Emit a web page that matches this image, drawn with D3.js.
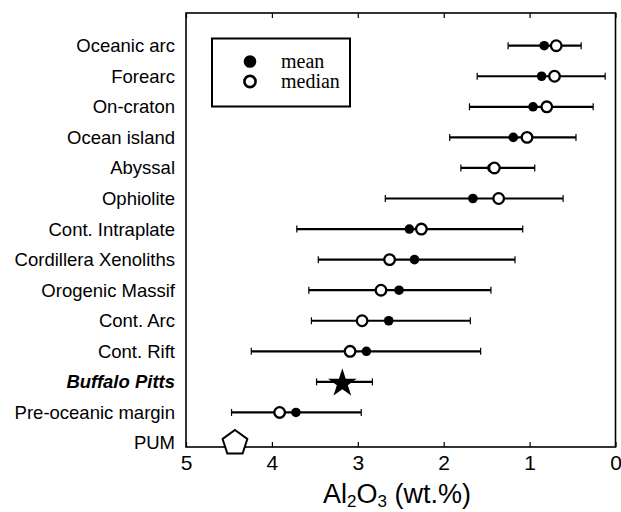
<!DOCTYPE html>
<html>
<head>
<meta charset="utf-8">
<script src="https://cdn.jsdelivr.net/npm/d3@7"></script>
<style>
  body { margin: 0; background: #fff; }
  svg { display: block; }
</style>
</head>
<body>
<svg id="chart" width="621" height="512"></svg>
<script>
// Al2O3 of peridotite suites (wt.%)
const categories = ["Oceanic arc", "Forearc", "On-craton", "Ocean island", "Abyssal", "Ophiolite",
  "Cont. Intraplate", "Cordillera Xenoliths", "Orogenic Massif", "Cont. Arc", "Cont. Rift",
  "Buffalo Pitts", "Pre-oceanic margin", "PUM"];
const meanVals   = [0.83, 0.86, 0.96, 1.19, 1.44, 1.66, 2.40, 2.34, 2.52, 2.64, 2.90, null, 3.72, null];
const medianVals = [0.69, 0.71, 0.80, 1.03, 1.41, 1.36, 2.26, 2.63, 2.73, 2.95, 3.09, null, 3.91, null];
const lowVals    = [1.25, 1.61, 1.70, 1.93, 1.80, 2.68, 3.71, 3.46, 3.57, 3.54, 4.24, 3.48, 4.47, null];
const highVals   = [0.40, 0.12, 0.26, 0.46, 0.94, 0.61, 1.08, 1.17, 1.45, 1.69, 1.57, 2.83, 2.96, null];
const buffaloVal = 3.18;
const pumVal = 4.43;
const xTicks = [5, 4, 3, 2, 1, 0];

const svg = d3.select("#chart");
const plotL = 186, plotR = 615.5, plotT = 13, plotB = 447;

const x = d3.scaleLinear().domain([5, 0]).range([plotL, plotR]);
const y = d3.scalePoint().domain(categories).range([45.7, 443]);

const rows = categories.map((c, i) => ({
  name: c, mean: meanVals[i], median: medianVals[i], lo: lowVals[i], hi: highVals[i]
}));

// frame
svg.append("rect")
  .attr("x", plotL).attr("y", plotT)
  .attr("width", plotR - plotL).attr("height", plotB - plotT)
  .attr("fill", "none").attr("stroke", "#000").attr("stroke-width", 1.6);

// bottom axis
const xAxis = svg.append("g")
  .attr("transform", `translate(0,${plotB})`)
  .call(d3.axisBottom(x).tickValues(xTicks).tickSize(-5).tickPadding(8).tickFormat(d3.format("d")));
xAxis.select(".domain").remove();
xAxis.selectAll("line").attr("stroke-width", 1.2);
xAxis.selectAll("text")
  .attr("font-family", "Liberation Sans, Arial, sans-serif")
  .attr("font-size", 21).attr("fill", "#000");

// top ticks
const topAxis = svg.append("g")
  .attr("transform", `translate(0,${plotT})`)
  .call(d3.axisTop(x).tickValues(xTicks).tickSize(-5).tickFormat(""));
topAxis.select(".domain").remove();
topAxis.selectAll("line").attr("stroke-width", 1.2);

// x title
const title = svg.append("text")
  .attr("x", 397).attr("y", 503)
  .attr("text-anchor", "middle")
  .attr("font-family", "Liberation Sans, Arial, sans-serif")
  .attr("font-size", 27).attr("fill", "#000");
title.append("tspan").text("Al");
title.append("tspan").attr("font-size", 17).attr("dy", 4).text("2");
title.append("tspan").attr("dy", -4).text("O");
title.append("tspan").attr("font-size", 17).attr("dy", 4).text("3");
title.append("tspan").attr("dy", -4).text(" (wt.%)");

// category labels
svg.append("g").selectAll("text")
  .data(rows)
  .join("text")
  .attr("x", 175)
  .attr("y", d => y(d.name))
  .attr("dy", "0.35em")
  .attr("text-anchor", "end")
  .attr("font-family", "Liberation Sans, Arial, sans-serif")
  .attr("font-size", 18.5)
  .attr("font-weight", d => d.name === "Buffalo Pitts" ? "bold" : null)
  .attr("font-style", d => d.name === "Buffalo Pitts" ? "italic" : null)
  .text(d => d.name);

// range bars
const ranged = rows.filter(d => d.lo != null);
const bars = svg.append("g");
bars.selectAll("line.range")
  .data(ranged)
  .join("line")
  .attr("class", "range")
  .attr("x1", d => x(d.lo)).attr("x2", d => x(d.hi))
  .attr("y1", d => y(d.name)).attr("y2", d => y(d.name))
  .attr("stroke", "#000").attr("stroke-width", 2.2);
bars.selectAll("line.capl")
  .data(ranged)
  .join("line")
  .attr("class", "capl")
  .attr("x1", d => x(d.lo)).attr("x2", d => x(d.lo))
  .attr("y1", d => y(d.name) - 3.5).attr("y2", d => y(d.name) + 3.5)
  .attr("stroke", "#000").attr("stroke-width", 1.2);
bars.selectAll("line.caph")
  .data(ranged)
  .join("line")
  .attr("class", "caph")
  .attr("x1", d => x(d.hi)).attr("x2", d => x(d.hi))
  .attr("y1", d => y(d.name) - 3.5).attr("y2", d => y(d.name) + 3.5)
  .attr("stroke", "#000").attr("stroke-width", 1.2);

// mean (filled) and median (open)
svg.append("g").selectAll("circle")
  .data(rows.filter(d => d.mean != null))
  .join("circle")
  .attr("cx", d => x(d.mean)).attr("cy", d => y(d.name))
  .attr("r", 4.8).attr("fill", "#000");

svg.append("g").selectAll("circle")
  .data(rows.filter(d => d.median != null))
  .join("circle")
  .attr("cx", d => x(d.median)).attr("cy", d => y(d.name))
  .attr("r", 5.3).attr("fill", "#fff").attr("stroke", "#000").attr("stroke-width", 2.3);

// Buffalo Pitts star
svg.append("path")
  .attr("d", d3.symbol(d3.symbolStar, 255)())
  .attr("transform", `translate(${x(buffaloVal)},${y("Buffalo Pitts") + 1.5})`)
  .attr("fill", "#000");

// PUM pentagon
const R = 13;
const pent = d3.range(5).map(k => {
  const a = -Math.PI / 2 + k * 2 * Math.PI / 5;
  return [R * Math.cos(a), R * Math.sin(a)];
});
svg.append("path")
  .attr("d", d3.line()(pent) + "Z")
  .attr("transform", `translate(${x(pumVal)},${y("PUM")})`)
  .attr("fill", "#fff").attr("stroke", "#000").attr("stroke-width", 2);

// legend
const lg = svg.append("g");
lg.append("rect")
  .attr("x", 212).attr("y", 38.5)
  .attr("width", 138).attr("height", 68)
  .attr("fill", "#fff").attr("stroke", "#000").attr("stroke-width", 2);
lg.append("circle").attr("cx", 250).attr("cy", 61.5).attr("r", 6.3).attr("fill", "#000");
lg.append("circle").attr("cx", 250).attr("cy", 81.5).attr("r", 5.6)
  .attr("fill", "#fff").attr("stroke", "#000").attr("stroke-width", 2.6);
lg.selectAll("text")
  .data(["mean", "median"])
  .join("text")
  .attr("x", 281)
  .attr("y", (d, i) => 61.5 + i * 20)
  .attr("dy", "0.33em")
  .attr("font-family", "Liberation Serif, Times New Roman, serif")
  .attr("font-size", 20)
  .text(d => d);
</script>
</body>
</html>
